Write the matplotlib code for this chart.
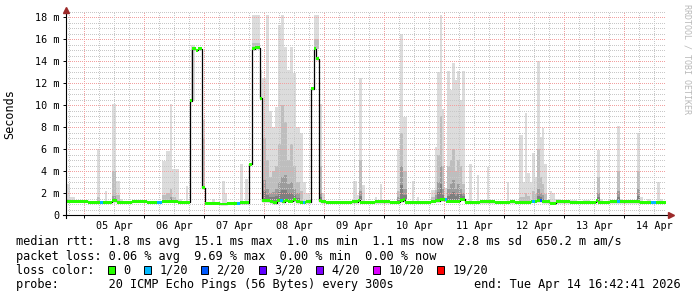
import numpy as np
import matplotlib.pyplot as plt
from matplotlib.patches import Rectangle

plt.rcParams['font.family'] = ['DejaVu Sans Mono']

W, H = 697, 297

# time axis: hours since graph start (Apr 04 16:42:41), 10 days shown
t_end = 240.0
first_midnight = 7.289
day_labels = ['05 Apr', '06 Apr', '07 Apr', '08 Apr', '09 Apr',
              '10 Apr', '11 Apr', '12 Apr', '13 Apr', '14 Apr']

# median rtt (ms), piecewise constant: segment start hour -> value
med_start = [0.0, 8.8, 18.4, 20.4, 26.4, 32.4, 38.4, 44.8, 49.6, 50.3,
             52.0, 52.6, 54.3, 55.6, 61.6, 64.4, 69.6, 73.3, 74.3, 75.6,
             77.5, 78.3, 81.6, 82.8, 84.4, 86.4, 87.6, 88.8, 90.8, 92.0,
             93.6, 96.0, 97.9, 99.2, 100.1, 101.1, 102.0, 104.0, 114.4, 116.8,
             117.6, 123.6, 129.6, 133.6, 134.8, 135.6, 146.0, 148.0, 149.6, 152.0,
             157.6, 159.6, 165.6, 171.6, 177.6, 179.6, 186.0, 188.4, 189.6, 190.4,
             193.6, 196.0, 201.6, 212.0, 212.8, 217.6, 229.6]
med_val = [1.24, 1.18, 1.30, 1.18, 1.24, 1.18, 1.27, 1.18, 10.4, 15.1,
           15.0, 15.1, 2.5, 1.08, 1.0, 1.05, 1.1, 4.6, 15.1, 15.2,
           10.6, 1.3, 1.2, 1.1, 1.3, 1.2, 1.35, 1.25, 1.4, 1.2,
           1.15, 1.2, 11.5, 15.1, 14.2, 1.3, 1.2, 1.15, 1.2, 1.35,
           1.15, 1.2, 1.15, 1.3, 1.4, 1.15, 1.25, 1.3, 1.4, 1.25,
           1.45, 1.15, 1.2, 1.15, 1.2, 1.15, 1.25, 1.3, 1.35, 1.2,
           1.05, 1.2, 1.15, 1.3, 1.15, 1.2, 1.15]

# packet loss periods (index into loss colours)
loss_start = [13.6, 36.4, 68.4, 85.6, 94.6, 151.6, 186.4, 189.6, 220.4, 234.0]
loss_end = [14.8, 38.4, 69.6, 86.6, 95.6, 152.4, 187.6, 190.4, 221.6, 236.0]
loss_level = [1, 1, 1, 1, 1, 1, 1, 2, 1, 1]

loss_labels = ['0', '1/20', '2/20', '3/20', '4/20', '10/20', '19/20']
loss_colors = ['#26ff00', '#00b8ff', '#0059ff', '#5e00ff', '#7e00ff', '#dd00ff', '#ff0000']

# smoke: start/end hour, max ping, upper-mid ping, inner ping (0 = none)
sm_start = [0.0, 1.6, 12.3, 15.6, 18.3, 19.9, 21.6, 38.3, 40.0, 41.6,
            42.5, 44.0, 45.3, 48.0, 50.0, 54.3, 58.3, 62.3, 63.6, 69.6,
            71.6, 74.3, 77.6, 78.4, 79.8, 81.2, 82.4, 83.6, 84.8, 86.0,
            87.2, 88.4, 89.6, 90.8, 92.0, 93.6, 94.8, 96.0, 99.2, 101.2,
            102.4, 114.9, 116.3, 117.3, 118.5, 123.6, 125.6, 128.3, 132.3, 133.6,
            134.9, 138.3, 140.3, 146.0, 147.6, 148.5, 149.6, 150.5, 151.3, 152.3,
            153.6, 154.5, 155.6, 156.5, 157.6, 158.5, 161.3, 164.3, 168.3, 176.3,
            181.3, 182.7, 183.6, 184.5, 185.6, 186.5, 187.6, 188.3, 189.6, 190.5,
            191.2, 193.6, 194.5, 195.6, 200.4, 206.8, 212.3, 213.6, 216.8, 220.3,
            221.6, 228.3, 229.6, 232.4, 236.3, 237.6]
sm_end = [1.6, 3.6, 13.6, 16.4, 19.9, 21.6, 22.8, 40.0, 41.6, 42.5,
          44.0, 45.3, 46.4, 48.9, 51.6, 55.6, 59.6, 63.6, 64.4, 70.7,
          72.9, 77.6, 78.4, 79.8, 81.2, 82.4, 83.6, 84.8, 86.0, 87.2,
          88.4, 89.6, 90.8, 92.0, 93.6, 94.8, 96.0, 97.6, 101.2, 102.4,
          103.6, 116.3, 117.3, 118.5, 119.6, 124.4, 126.5, 129.6, 133.6, 134.9,
          136.3, 139.2, 141.2, 147.6, 148.5, 149.6, 150.5, 151.3, 152.3, 153.6,
          154.5, 155.6, 156.5, 157.6, 158.5, 159.6, 162.3, 165.3, 169.3, 177.2,
          182.7, 183.6, 184.5, 185.6, 186.5, 187.6, 188.3, 189.6, 190.5, 191.2,
          192.3, 194.5, 195.6, 197.6, 204.4, 209.6, 213.6, 214.8, 219.2, 221.6,
          222.8, 229.6, 230.8, 234.0, 237.6, 238.8]
sm_max = [2.8, 1.6, 6.0, 2.2, 10.1, 3.05, 1.5, 4.9, 5.8, 10.1,
          4.2, 4.2, 1.5, 2.6, 15.5, 8.6, 1.5, 3.05, 2.0, 4.65,
          3.3, 18.2, 13.2, 12.5, 18.2, 9.5, 8.0, 9.8, 17.3, 18.2,
          15.3, 13.2, 15.3, 12.9, 8.0, 7.5, 3.0, 2.0, 18.2, 10.1,
          2.0, 3.05, 1.8, 12.5, 2.7, 1.6, 2.85, 1.4, 6.0, 16.5,
          8.9, 3.05, 1.6, 2.3, 6.2, 13.0, 18.2, 9.6, 2.5, 13.1,
          11.4, 13.8, 12.3, 13.1, 10.5, 13.1, 4.6, 3.6, 4.4, 3.0,
          7.3, 3.0, 9.3, 3.8, 3.0, 5.6, 3.5, 14.0, 7.1, 7.9,
          4.6, 2.2, 2.0, 1.5, 1.4, 1.4, 5.9, 1.5, 1.4, 8.05,
          1.5, 7.5, 1.6, 1.5, 3.0, 1.5]
sm_mid = [1.5, 0, 1.6, 0, 4.0, 1.8, 0, 1.8, 2.0, 2.4,
          1.6, 0, 0, 0, 0, 7.0, 0, 0, 0, 0,
          0, 15.6, 9.0, 7.0, 5.0, 3.5, 4.0, 4.5, 6.5, 10.0,
          8.5, 5.0, 6.5, 4.5, 3.0, 2.2, 0, 0, 16.0, 4.5,
          0, 0, 0, 5.0, 0, 0, 0, 0, 2.2, 7.5,
          4.0, 0, 0, 1.6, 2.3, 5.5, 9.0, 4.5, 0, 4.5,
          5.0, 6.0, 4.0, 5.0, 4.5, 2.8, 0, 0, 0, 0,
          1.6, 1.6, 2.0, 1.7, 0, 2.2, 1.9, 6.0, 3.5, 2.8,
          1.9, 0, 0, 0, 0, 0, 3.5, 0, 0, 4.0,
          0, 4.0, 0, 0, 0, 0]
sm_low = [0, 0, 0, 0, 1.7, 0, 0, 0, 0, 1.6,
          0, 0, 0, 0, 0, 0, 0, 0, 0, 0,
          0, 0, 4.0, 3.2, 2.4, 2.0, 2.1, 2.4, 3.0, 3.5,
          3.6, 2.8, 3.0, 2.4, 2.0, 0, 0, 0, 0, 2.0,
          0, 0, 0, 2.2, 0, 0, 0, 0, 1.6, 4.5,
          2.4, 0, 0, 0, 1.8, 3.0, 4.5, 2.4, 0, 2.4,
          2.8, 3.2, 2.4, 2.8, 2.4, 2.0, 0, 0, 0, 0,
          0, 0, 0, 0, 0, 0, 0, 2.4, 2.0, 1.8,
          0, 0, 0, 0, 0, 0, 2.0, 0, 0, 2.2,
          0, 2.4, 0, 0, 0, 0]


def median_at(t):
    i = np.searchsorted(med_start, t, side='right') - 1
    return med_val[i]


fig = plt.figure(figsize=(W / 100, H / 100), dpi=100)
fig.patch.set_facecolor('white')
ax = fig.add_axes([66 / W, 82 / H, 600 / W, 204 / H])
ax.set_xlim(0, t_end)
ax.set_ylim(0, 18.55)
for s in ax.spines.values():
    s.set_visible(False)

# smoke, light outer band to dark inner band
for a, b, mx, md, lo in zip(sm_start, sm_end, sm_max, sm_mid, sm_low):
    base = median_at(a)
    layers = [(mx, '#dcdcdc'), (md, '#bebebe'), (lo, '#9c9c9c')]
    if lo > 0:
        layers.append((base + (lo - base) * 0.45, '#7e7e7e'))
    for top, col in layers:
        if top > base:
            ax.bar(a, top - base, width=b - a, bottom=base, align='edge',
                   color=col, linewidth=0, zorder=1)

# dotted grid
dots = (0, (1, 2))
red_grid = '#f2a0a0'
grey_grid = '#c8c8c8'
for v in np.arange(0.5, 18.6, 0.5):
    major = abs(v % 2) < 1e-6
    ax.axhline(v, color=red_grid if major else grey_grid, lw=0.72,
               ls=dots, zorder=3, antialiased=False)
for h in np.arange(first_midnight - 6, t_end, 6):
    if h <= 0:
        continue
    major = abs((h - first_midnight) % 24) < 1e-6
    ax.axvline(h, color=red_grid if major else grey_grid, lw=0.72,
               ls=dots, zorder=3, antialiased=False)

# median line and loss coloured band
seg_x = med_start + [t_end]
ax.step(seg_x, med_val + [med_val[-1]], where='post', color='black',
        lw=0.9, zorder=4)
seg_w = np.diff(seg_x)
band = 0.27
ax.bar(med_start, band, width=seg_w, bottom=np.array(med_val) - band / 2,
       align='edge', color=loss_colors[0], linewidth=0, zorder=5)
for a, b, lv in zip(loss_start, loss_end, loss_level):
    m = median_at(a)
    ax.bar(a, band, width=b - a, bottom=m - band / 2, align='edge',
           color=loss_colors[lv], linewidth=0, zorder=6)

# axes lines and arrows
ax.plot([-3 / 600, 1.004], [0, 0], transform=ax.transAxes, color='black',
        lw=0.8, clip_on=False, zorder=7)
ax.plot([0, 0], [-3 / 204, 1.0], transform=ax.transAxes, color='black',
        lw=0.8, clip_on=False, zorder=7)
ax.plot([1.0 + 5 / 600], [0], marker='>', ms=5, color='#9c2a2a',
        transform=ax.transAxes, clip_on=False, zorder=8)
ax.plot([0], [1.0 + 1 / 204], marker='^', ms=4.5, color='#9c2a2a',
        transform=ax.transAxes, clip_on=False, zorder=8)

# ticks
yt = list(range(0, 19, 2))
ax.set_yticks(yt)
ax.set_yticklabels(['0' if v == 0 else f'{v} m' for v in yt])
midnights = [first_midnight + 24 * i for i in range(len(day_labels))]
ax.set_xticks(midnights)
ax.set_xticklabels([''] * len(midnights))
ax.set_xticks([m + 12 for m in midnights], minor=True)
ax.set_xticklabels(day_labels, minor=True)
ax.tick_params(axis='y', length=2, width=0.7, pad=2.5, labelsize=7.3)
ax.tick_params(axis='x', which='major', length=2, width=0.7)
ax.tick_params(axis='x', which='minor', length=0, pad=4, labelsize=7.3)

fig.text(10 / W, 1 - 114 / H, 'Seconds', rotation=90, ha='center',
         va='center', fontsize=8.5)
fig.text(687 / W, 1 - 4 / H, 'RRDTOOL / TOBI OETIKER', rotation=270,
         ha='center', va='top', fontsize=6, color='#b9b9b9')

# legend
fs = 8.55
cw = 7.15
x0 = 16.4
lines = ['median rtt:  1.8 ms avg  15.1 ms max  1.0 ms min  1.1 ms now  2.8 ms sd  650.2 m am/s',
         'packet loss: 0.06 % avg  9.69 % max  0.00 % min  0.00 % now',
         'loss color:',
         'probe:       20 ICMP Echo Pings (56 Bytes) every 300s']
centers = [241, 255.7, 269.5, 284]
for txt, yc in zip(lines, centers):
    fig.text(x0 / W, 1 - (yc + 4) / H, txt, fontsize=fs, va='baseline', ha='left')
fig.text(681 / W, 1 - (centers[3] + 4) / H, 'end: Tue Apr 14 16:42:41 2026',
         fontsize=fs, va='baseline', ha='right')

col = 13
for lab, c in zip(loss_labels, loss_colors):
    bx = x0 + col * cw - 1
    fig.patches.append(Rectangle((bx / W, 1 - (centers[2] + 4) / H), 7 / W, 8 / H,
                                 transform=fig.transFigure, facecolor=c,
                                 edgecolor='black', lw=0.7))
    fig.text((x0 + (col + 2) * cw) / W, 1 - (centers[2] + 4) / H, lab,
             fontsize=fs, va='baseline', ha='left')
    col += 2 + len(lab) + 2

fig.savefig('out.png', dpi=100)
